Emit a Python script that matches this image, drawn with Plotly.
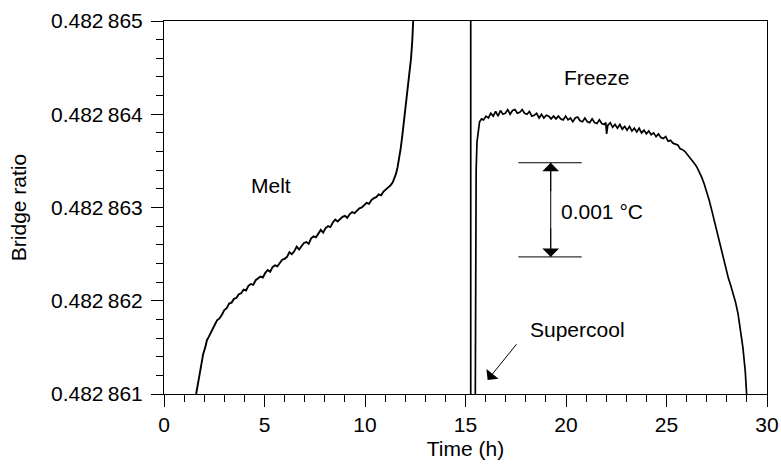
import plotly.graph_objects as go

BASE = 0.482861
SCALE = 1e-6

# Melt curve (time h, offset in 1e-6 units of bridge ratio)
melt_t = [1.60, 1.72, 1.84, 1.95, 2.05, 2.14, 2.22, 2.32, 2.42, 2.52, 2.64, 2.76, 2.88, 3.00,
          3.12, 3.24, 3.36, 3.48, 3.60, 3.72, 3.84, 3.96, 4.08, 4.20, 4.32, 4.44, 4.56, 4.68,
          4.80, 4.92, 5.04, 5.16, 5.28, 5.40, 5.52, 5.64, 5.76, 5.88, 6.00, 6.12, 6.24, 6.36,
          6.48, 6.60, 6.72, 6.84, 6.96, 7.08, 7.20, 7.32, 7.44, 7.56, 7.68, 7.80, 7.92, 8.04,
          8.16, 8.28, 8.40, 8.52, 8.64, 8.76, 8.88, 9.00, 9.12, 9.24, 9.36, 9.48, 9.60, 9.72,
          9.84, 9.96, 10.08, 10.20, 10.32, 10.44, 10.56, 10.68, 10.80, 10.92, 11.04, 11.16,
          11.28, 11.38, 11.46, 11.54, 11.62, 11.70, 11.78, 11.86, 11.94, 12.02, 12.10, 12.17,
          12.23, 12.29, 12.35, 12.40, 12.46]
melt_u = [0.00, 0.16, 0.33, 0.43, 0.50, 0.58, 0.61, 0.66, 0.71, 0.74, 0.79, 0.81, 0.85, 0.90,
          0.92, 0.97, 0.98, 1.02, 1.03, 1.07, 1.08, 1.12, 1.11, 1.16, 1.18, 1.17, 1.22, 1.24,
          1.26, 1.25, 1.30, 1.33, 1.31, 1.36, 1.38, 1.37, 1.41, 1.44, 1.45, 1.47, 1.52, 1.50,
          1.53, 1.58, 1.55, 1.59, 1.62, 1.63, 1.61, 1.67, 1.69, 1.68, 1.72, 1.76, 1.73, 1.78,
          1.80, 1.79, 1.84, 1.87, 1.85, 1.88, 1.90, 1.91, 1.89, 1.93, 1.95, 1.94, 1.97, 1.99,
          2.00, 2.02, 2.05, 2.04, 2.08, 2.10, 2.11, 2.14, 2.13, 2.17, 2.19, 2.21,
          2.24, 2.27, 2.31, 2.36, 2.43, 2.52, 2.64, 2.78, 2.93, 3.08, 3.22, 3.34,
          3.45, 3.60, 3.78, 3.95, 4.30]

# Freeze curve, including the supercool excursion
freeze_t = [15.26, 15.26, 15.47, 15.48, 15.50, 15.53, 15.57, 15.63, 15.70, 15.80, 15.90,
            16.02, 16.14, 16.26, 16.38, 16.50, 16.62, 16.74, 16.86, 16.98, 17.10, 17.22, 17.34,
            17.46, 17.58, 17.70, 17.82, 17.94, 18.06, 18.18, 18.30, 18.42, 18.54, 18.66, 18.78,
            18.90, 19.02, 19.14, 19.26, 19.38, 19.50, 19.62, 19.74, 19.86, 19.98, 20.10, 20.22,
            20.34, 20.46, 20.58, 20.70, 20.82, 20.94, 21.06, 21.18, 21.30, 21.42, 21.54, 21.66,
            21.78, 21.90, 21.98, 22.02, 22.08, 22.20, 22.32, 22.44, 22.56, 22.68, 22.80, 22.92,
            23.04, 23.16, 23.28, 23.40, 23.52, 23.64, 23.76, 23.88, 24.00, 24.12, 24.24, 24.36,
            24.48, 24.60, 24.72, 24.84, 24.96, 25.08, 25.20, 25.32, 25.44, 25.56, 25.68, 25.80,
            25.92, 26.04, 26.16, 26.28, 26.40, 26.52, 26.64, 26.76, 26.88, 27.00, 27.12, 27.24,
            27.36, 27.48, 27.60, 27.72, 27.84, 27.96, 28.08, 28.20, 28.32, 28.44, 28.56, 28.68,
            28.80, 28.92, 29.00, 29.04]
freeze_u = [5.00, -1.00, -1.00, 0.50, 1.80, 2.40, 2.70, 2.84, 2.92, 2.95, 2.94,
            2.98, 2.96, 3.01, 2.98, 3.03, 2.98, 3.04, 3.00, 3.01, 3.05, 3.00, 3.04,
            3.05, 3.01, 3.02, 3.05, 3.01, 3.00, 3.03, 2.98, 2.99, 3.01, 2.96, 3.00,
            2.96, 2.99, 2.98, 2.95, 2.98, 2.95, 2.98, 2.95, 2.94, 2.98, 2.94, 2.96,
            2.92, 2.96, 2.97, 2.93, 2.92, 2.96, 2.92, 2.91, 2.95, 2.91, 2.90, 2.94,
            2.90, 2.89, 2.91, 2.79, 2.88, 2.91, 2.86, 2.89, 2.85, 2.89, 2.84, 2.87,
            2.83, 2.87, 2.82, 2.85, 2.81, 2.85, 2.80, 2.83, 2.79, 2.82, 2.78, 2.80,
            2.76, 2.79, 2.75, 2.74, 2.76, 2.71, 2.72, 2.69, 2.68, 2.67, 2.63, 2.62,
            2.60, 2.57, 2.54, 2.51, 2.47, 2.43, 2.38, 2.32, 2.25, 2.17, 2.08, 1.98,
            1.87, 1.76, 1.65, 1.54, 1.43, 1.33, 1.24, 1.16, 1.08, 0.98, 0.86, 0.70,
            0.50, 0.24, 0.02, -0.20]

y_tickvals = [0.482861, 0.482862, 0.482863, 0.482864, 0.482865]
y_ticktext = ["0.482\u2009861", "0.482\u2009862", "0.482\u2009863", "0.482\u2009864", "0.482\u2009865"]
y_minor = [0.482861 + k * 0.0000002 for k in range(21)]
x_tickvals = [0, 5, 10, 15, 20, 25, 30]

melt_y = [BASE + u * SCALE for u in melt_u]
freeze_y = [BASE + u * SCALE for u in freeze_u]

FONT = "Liberation Sans, Arial, sans-serif"
FS = 21
fig = go.Figure()
fig.add_trace(go.Scatter(x=melt_t, y=melt_y, mode="lines",
                         line=dict(color="black", width=1.9), showlegend=False))
fig.add_trace(go.Scatter(x=freeze_t, y=freeze_y, mode="lines",
                         line=dict(color="black", width=1.7), showlegend=False))

def Y(u):
    return BASE + u * SCALE

# scale bar: two horizontal limits and a double-headed arrow
fig.add_shape(type="line", x0=17.63, x1=20.78, y0=Y(2.48), y1=Y(2.48), line=dict(color="black", width=1))
fig.add_shape(type="line", x0=17.63, x1=20.78, y0=Y(1.47), y1=Y(1.47), line=dict(color="black", width=1))
fig.add_shape(type="line", x0=19.24, x1=19.24, y0=Y(2.48), y1=Y(1.47), line=dict(color="black", width=1))
for yt, off in ((2.48, 30), (1.47, -30)):
    fig.add_annotation(x=19.24, y=Y(yt), ax=0, ay=off, xref="x", yref="y", text="",
                       showarrow=True, arrowhead=1, arrowsize=2.8, arrowwidth=1,
                       arrowcolor="black", standoff=0)

fig.add_annotation(x=5.3, y=Y(2.24), text="Melt", showarrow=False,
                   font=dict(size=FS, color="black", family=FONT))
fig.add_annotation(x=21.54, y=Y(3.39), text="Freeze", showarrow=False,
                   font=dict(size=FS, color="black", family=FONT))
fig.add_annotation(x=21.78, y=Y(1.96), text="0.001 °C", showarrow=False,
                   font=dict(size=FS, color="black", family=FONT))
fig.add_annotation(x=18.1, y=Y(0.69), text="Supercool", showarrow=False, xanchor="left",
                   font=dict(size=FS, color="black", family=FONT))
fig.add_annotation(x=16.10, y=Y(0.15), ax=17.6, ay=Y(0.55), axref="x", ayref="y",
                   xref="x", yref="y", text="", showarrow=True, arrowhead=1,
                   arrowsize=2.6, arrowwidth=1, arrowcolor="black", standoff=0)

fig.update_layout(
    width=781, height=466,
    margin=dict(l=164, r=14, t=21, b=72, autoexpand=False),
    plot_bgcolor="white", paper_bgcolor="white",
    font=dict(family=FONT, size=FS, color="black"),
)
fig.update_xaxes(range=[0, 30], tickvals=x_tickvals, ticks="outside", ticklen=12,
                 tickwidth=1, tickcolor="black", showline=True, linecolor="black",
                 linewidth=1, mirror=True, showgrid=False, zeroline=False,
                 minor=dict(dtick=1, tick0=0, ticks="outside", ticklen=7, tickcolor="black", tickwidth=1),
                 title=dict(text="Time (h)", standoff=6, font=dict(size=21, family=FONT, color="black")))
fig.update_yaxes(range=[0.482861, 0.482865], tickvals=y_tickvals, ticktext=y_ticktext,
                 ticks="outside", ticklen=12, tickwidth=1, tickcolor="black",
                 showline=True, linecolor="black", linewidth=1, mirror=True,
                 showgrid=False, zeroline=False, ticklabelstandoff=4,
                 minor=dict(tickvals=y_minor, ticks="outside", ticklen=7, tickcolor="black", tickwidth=1),
                 title=dict(text="Bridge ratio", standoff=18, font=dict(size=21, family=FONT, color="black")))

fig.write_html("out.html")
